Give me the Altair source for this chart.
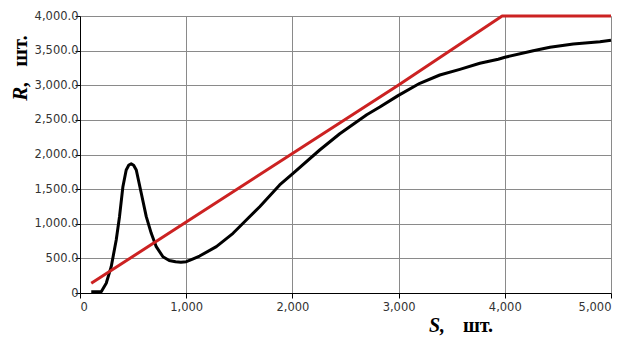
import altair as alt
import pandas as pd

# Black curve R(S)
black_s = [106, 200, 247, 294, 341, 372, 404, 435, 460, 482, 505, 530, 577, 624, 671, 718,
           781, 840, 900, 950, 1001, 1060, 1126, 1284, 1441, 1566, 1692, 1880, 2006, 2257,
           2446, 2603, 2700, 2823, 2995, 3200, 3388, 3577, 3765, 3938, 4001, 4268, 4425, 4645,
           4896, 5000]
black_r = [19, 19, 140, 380, 765, 1102, 1535, 1776, 1848, 1865, 1845, 1776, 1440, 1102, 862, 669,
           524, 470, 450, 445, 452, 490, 534, 669, 862, 1054, 1246, 1560, 1729, 2065,
           2300, 2470, 2575, 2685, 2850, 3028, 3148, 3230, 3317, 3375, 3404, 3499, 3548, 3596,
           3629, 3650]

# Red line (capped)
red_s = [106, 1000, 2000, 3000, 3975, 5000]
red_r = [140, 1025, 2015, 3005, 4000, 4000]

x_ticks = [0, 1000, 2000, 3000, 4000, 5000]
y_ticks = [0, 500, 1000, 1500, 2000, 2500, 3000, 3500, 4000]

df = pd.concat([
    pd.DataFrame({"S": black_s, "R": black_r, "series": "black"}),
    pd.DataFrame({"S": red_s, "R": red_r, "series": "red"}),
])

grid_col = "#8a8a8a"
lab_font = "DejaVu Sans"

lines = alt.Chart(df).mark_line(strokeWidth=3, strokeJoin="round").encode(
    x=alt.X("S:Q", scale=alt.Scale(domain=[0, 5000], nice=False, zero=False),
            axis=alt.Axis(values=x_ticks, format=",d", title=None, grid=True,
                          gridColor=grid_col, gridOpacity=1, domainColor="black",
                          tickColor="black", tickSize=5, labelPadding=3,
                          labelFont=lab_font, labelFontSize=11.5, labelColor="#333333")),
    y=alt.Y("R:Q", scale=alt.Scale(domain=[0, 4000], nice=False),
            axis=alt.Axis(values=y_ticks, title=None, grid=True,
                          labelExpr="datum.value == 0 ? '0' : format(datum.value, ',.1f')",
                          gridColor=grid_col, gridOpacity=1, domainColor="black",
                          tickColor="black", tickSize=5, labelPadding=-3,
                          labelFont=lab_font, labelFontSize=11.5, labelColor="#333333")),
    color=alt.Color("series:N", scale=alt.Scale(domain=["black", "red"],
                                                range=["#000000", "#cc2222"]), legend=None),
    order=alt.Order("series:N", sort="ascending"),
)

one = pd.DataFrame({"k": [0]})
serif = "Liberation Serif"
y_t1 = alt.Chart(one).mark_text(text="R,", font=serif, fontSize=21, fontWeight="bold",
                                fontStyle="italic", angle=270, align="center",
                                baseline="alphabetic").encode(x=alt.value(-53), y=alt.value(75))
y_t2 = alt.Chart(one).mark_text(text="шт.", font=serif, fontSize=21, fontWeight="bold",
                                angle=270, align="center",
                                baseline="alphabetic").encode(x=alt.value(-53), y=alt.value(35))
x_t1 = alt.Chart(one).mark_text(text="S,", font=serif, fontSize=20, fontWeight="bold",
                                fontStyle="italic", align="center",
                                baseline="alphabetic").encode(x=alt.value(357), y=alt.value(316))
x_t2 = alt.Chart(one).mark_text(text="шт.", font=serif, fontSize=20, fontWeight="bold",
                                align="center",
                                baseline="alphabetic").encode(x=alt.value(398), y=alt.value(316))

chart = alt.layer(lines, y_t1, y_t2, x_t1, x_t2).properties(
    width=531, height=277,
    autosize=alt.AutoSizeParams(type="none"),
    padding={"left": 72, "top": 8, "right": 6, "bottom": 47},
    background="white",
).configure_view(stroke=None)

chart.save("out.html", embed_options={"renderer": "svg", "actions": False})
